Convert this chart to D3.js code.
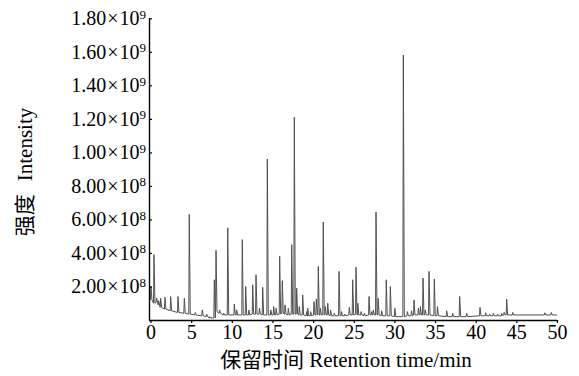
<!DOCTYPE html>
<html>
<head>
<meta charset="utf-8">
<script src="https://cdn.jsdelivr.net/npm/d3@7"></script>
<style>
  html, body { margin: 0; padding: 0; background: #fff; }
  svg { display: block; }
</style>
</head>
<body>
<svg id="chart" width="579" height="376"></svg>
<script>
// ---- data (intensity in units of 1e8) ----
const peakTime = [0.06,0.43,0.75,1.0,1.25,1.78,2.48,3.38,4.16,4.77,5.5,6.37,6.91,7.3,7.85,8.06,8.5,9.0,9.5,10.31,10.6,11.29,11.71,12.1,12.57,12.98,13.4,13.8,14.37,14.8,15.15,15.45,15.89,16.21,16.55,16.95,17.37,17.69,17.98,18.3,18.72,19.2,19.34,19.7,20.11,20.4,20.64,20.9,21.25,21.5,21.8,22.15,22.6,23.19,23.5,23.9,24.45,24.87,25.28,25.5,25.9,26.3,26.88,27.2,27.41,27.74,28.0,28.44,29.0,29.5,30.05,31.1,31.6,32.1,32.41,32.95,33.2,33.52,33.8,34.26,34.91,35.3,36.43,37.17,38.03,38.89,40.53,41.23,41.7,42.17,42.7,43.2,43.5,43.81,44.55,48.5,49.3];
const peakHeight = [2.0,3.9,1.3,1.15,1.3,1.35,1.4,1.4,1.3,6.3,0.45,0.6,0.35,0.2,2.4,4.15,0.6,0.4,5.5,0.95,0.6,4.8,2.0,0.6,2.1,2.7,0.7,1.95,9.6,0.6,0.8,0.7,3.8,2.35,0.9,0.7,4.5,12.1,1.9,0.8,1.5,0.5,0.7,0.5,1.1,1.25,3.2,0.7,5.85,0.8,1.0,0.6,0.4,2.9,0.5,0.35,0.75,2.4,3.15,1.0,0.5,0.4,1.4,0.5,0.6,6.45,1.3,0.55,2.4,2.0,0.7,15.8,0.5,0.55,1.2,0.7,0.8,2.5,0.6,2.9,2.45,0.8,0.55,0.4,1.4,0.4,0.75,0.43,0.35,0.4,0.35,0.4,0.45,1.25,0.45,0.43,0.45];
const peakBase = [1.2,1.0,1.05,0.9,0.75,0.65,0.55,0.45,0.4,0.35,0.3,0.25,0.2,0.12,0.12,0.5,0.4,0.3,0.3,0.3,0.3,0.3,0.3,0.3,0.35,0.35,0.35,0.3,0.3,0.3,0.3,0.3,0.35,0.4,0.35,0.3,0.35,0.35,0.35,0.3,0.3,0.25,0.25,0.25,0.3,0.3,0.3,0.3,0.3,0.3,0.3,0.25,0.25,0.25,0.25,0.25,0.3,0.3,0.35,0.3,0.3,0.25,0.3,0.3,0.3,0.3,0.3,0.25,0.25,0.25,0.2,0.2,0.25,0.25,0.3,0.3,0.3,0.3,0.3,0.3,0.25,0.25,0.2,0.2,0.2,0.2,0.25,0.25,0.25,0.25,0.25,0.25,0.3,0.3,0.3,0.3,0.3];
const endTime = [0, 50];
const endValue = [1.2, 0.3];
const xTicks = [0,5,10,15,20,25,30,35,40,45,50];
const yTicks = [2,4,6,8,10,12,14,16,18];
const xTitleCn = "保留时间";
const xTitleEn = "Retention time/min";
const yTitleCn = "强度";
const yTitleEn = "Intensity";

// ---- build trace ----
const pts = [];
pts.push([endTime[0], endValue[0]]);
peakTime.forEach((t, i) => {
  pts.push([t - 0.06, peakBase[i]]);
  pts.push([t, peakHeight[i]]);
  pts.push([t + 0.12, peakBase[i]]);
});
pts.push([endTime[1], endValue[1]]);
pts.sort((a, b) => a[0] - b[0]);

const svg = d3.select("#chart");
const x = d3.scaleLinear().domain([0, 50]).range([150.5, 557]);
const y = d3.scaleLinear().domain([0, 18]).range([320, 18.3]);

const serif = "'Liberation Serif', 'Times New Roman', serif";

svg.append("defs").append("clipPath").attr("id", "clip")
  .append("rect").attr("x", 149.5).attr("y", 10).attr("width", 408).attr("height", 310);

svg.append("path")
  .datum(pts)
  .attr("clip-path", "url(#clip)")
  .attr("fill", "none")
  .attr("stroke", "#505050")
  .attr("stroke-width", 1)
  .attr("stroke-linejoin", "round")
  .attr("d", d3.line().x(d => x(d[0])).y(d => y(d[1])));

// x axis
const gx = svg.append("g").attr("transform", "translate(0,320)")
  .call(d3.axisBottom(x).tickValues(xTicks).tickSize(3).tickSizeOuter(0).tickPadding(2).tickFormat(d3.format("d")));
gx.select(".domain").attr("stroke", "#000").attr("stroke-width", 1.4).attr("d", "M149,0.5H557");
gx.selectAll(".tick line").attr("stroke", "#000").attr("stroke-width", 1.2);
gx.selectAll(".tick text").attr("font-family", serif).attr("font-size", 20).attr("fill", "#000");

// y axis
const gy = svg.append("g").attr("transform", "translate(149,0)")
  .call(d3.axisLeft(y).tickValues(yTicks).tickSize(-3).tickSizeOuter(0).tickPadding(3));
gy.select(".domain").attr("stroke", "#000").attr("stroke-width", 1.4).attr("d", "M0.5,18.3V320.5");
gy.selectAll(".tick line").attr("stroke", "#000").attr("stroke-width", 1.2);
gy.selectAll(".tick text").each(function(d) {
  const v = d * 1e8;
  const e = Math.floor(Math.log10(v) + 1e-9);
  const m = (v / Math.pow(10, e)).toFixed(2);
  const t = d3.select(this).text(null)
    .attr("font-family", serif).attr("font-size", 20).attr("fill", "#000");
  t.append("tspan").text(m);
  t.append("tspan").attr("dx", 1).text("×");
  t.append("tspan").attr("dx", 1).text("10");
  t.append("tspan").attr("dy", "-0.5em").attr("font-size", 13).text(e);
});

// x title
const xt = svg.append("text")
  .attr("x", 346).attr("y", 367)
  .attr("text-anchor", "middle")
  .attr("font-size", 21).attr("fill", "#000");
xt.append("tspan").attr("font-family", "'Noto Sans CJK SC', sans-serif").text(xTitleCn);
xt.append("tspan").attr("dx", 5).attr("font-family", serif).text(xTitleEn);

// y title
const yt = svg.append("text")
  .attr("transform", "translate(31.5,172) rotate(-90)")
  .attr("text-anchor", "middle")
  .attr("font-size", 21).attr("fill", "#000");
yt.append("tspan").attr("font-family", "'Noto Sans CJK SC', sans-serif").text(yTitleCn);
yt.append("tspan").attr("dx", 13).attr("font-family", serif).text(yTitleEn);
</script>
</body>
</html>
